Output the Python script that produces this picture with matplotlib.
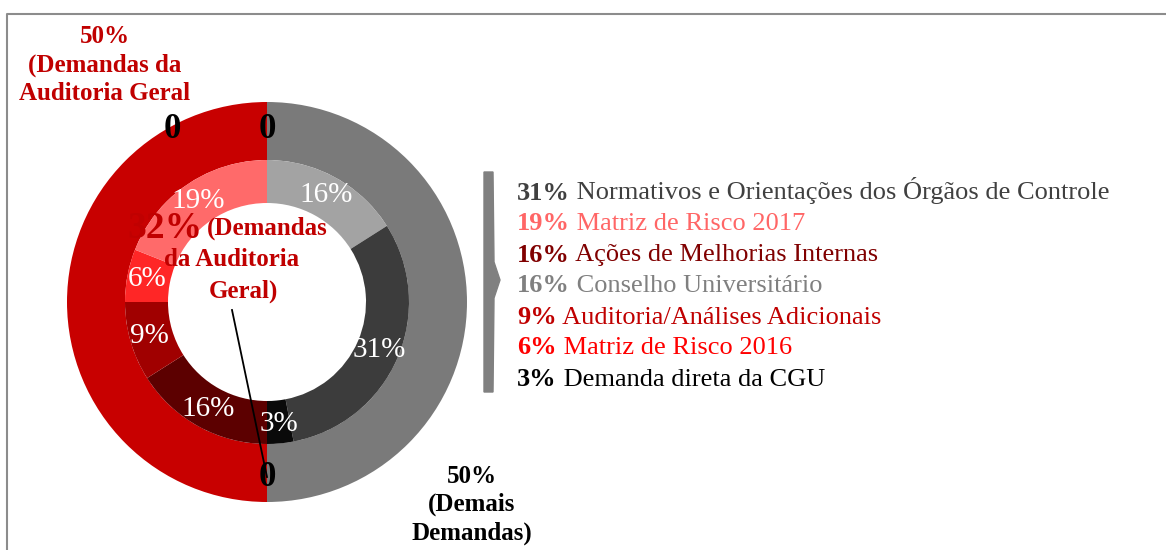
import matplotlib.pyplot as plt
from matplotlib.patches import Polygon

plt.rcParams["font.family"] = ["Liberation Serif", "DejaVu Serif"]

W, H = 1166, 550

# outer ring, clockwise from the top
outer_values = [50, 50]
outer_colors = ["#7a7a7a", "#c80000"]

# inner ring, clockwise from the top
categories = [
    "Conselho Universitário",
    "Normativos e Orientações dos Órgãos de Controle",
    "Demanda direta da CGU",
    "Ações de Melhorias Internas",
    "Auditoria/Análises Adicionais",
    "Matriz de Risco 2016",
    "Matriz de Risco 2017",
]
values = [16, 31, 3, 16, 9, 6, 19]
ring_colors = ["#a3a3a3", "#3c3c3c", "#0a0a0a", "#5c0000", "#a00000", "#ff2626", "#ff6a6a"]
text_colors = ["#808080", "#404040", "#000000", "#800000", "#c00000", "#ff0000", "#ff6666"]
legend_order = [1, 6, 3, 0, 4, 5, 2]


def Y(y):
    return H - y


fig = plt.figure(figsize=(W / 100, H / 100), dpi=100)
ax = fig.add_axes([0, 0, 1, 1])

cx, cy = 267, Y(302)
ax.pie(outer_values, colors=outer_colors, radius=200, center=(cx, cy),
       startangle=90, counterclock=False,
       wedgeprops=dict(width=58, edgecolor="none"))
wedges, _, pcts = ax.pie(values, colors=ring_colors, radius=142, center=(cx, cy),
                         startangle=90, counterclock=False,
                         autopct="%d%%", pctdistance=0.86,
                         wedgeprops=dict(width=43, edgecolor="none"),
                         textprops=dict(color="white", fontsize=21))

# frame
ax.plot([7, 7, W], [0, Y(14), Y(14)], color="#8c8c8c", lw=1.5)

# zero labels
for x, y in [(172, 130), (267, 130), (267, 478)]:
    ax.text(x, Y(y), "0", fontsize=25, weight="bold", ha="center", va="center")

red = "#c00000"
ax.text(105, Y(65), "50%\n(Demandas da\nAuditoria Geral", fontsize=18, weight="bold",
        color=red, ha="center", va="center", linespacing=1.3)
ax.text(472, Y(505), "50%\n(Demais\nDemandas)", fontsize=18, weight="bold",
        color="black", ha="center", va="center", linespacing=1.3)

ax.text(203, Y(228), "32%", fontsize=27, weight="bold", color=red, ha="right", va="center")
ax.text(207, Y(228), "(Demandas", fontsize=18, weight="bold", color=red, ha="left", va="center")
ax.text(232, Y(260), "da Auditoria", fontsize=18, weight="bold", color=red, ha="center", va="center")
ax.text(243, Y(291), "Geral)", fontsize=18, weight="bold", color=red, ha="center", va="center")
ax.plot([232, 267], [Y(310), Y(477)], color="black", lw=1.3)

# legend arrow
ax.add_patch(Polygon([(484, Y(172)), (493, Y(172)), (494, Y(262)), (500, Y(280)),
                      (494, Y(298)), (493, Y(392)), (484, Y(392))],
                     closed=True, color="#808080"))

for i, k in enumerate(legend_order):
    y = Y(193 + 31 * i)
    pct = ax.text(517, y, f"{values[k]}%", fontsize=19, weight="bold",
                  color=text_colors[k], ha="left", va="center")
    ax.annotate(" " + categories[k], xy=(1, 0), xycoords=pct, fontsize=19,
                color=text_colors[k], ha="left", va="bottom")

ax.set_xlim(0, W)
ax.set_ylim(0, H)
ax.set_aspect("equal")
ax.axis("off")

fig.savefig("out.png", dpi=100)
